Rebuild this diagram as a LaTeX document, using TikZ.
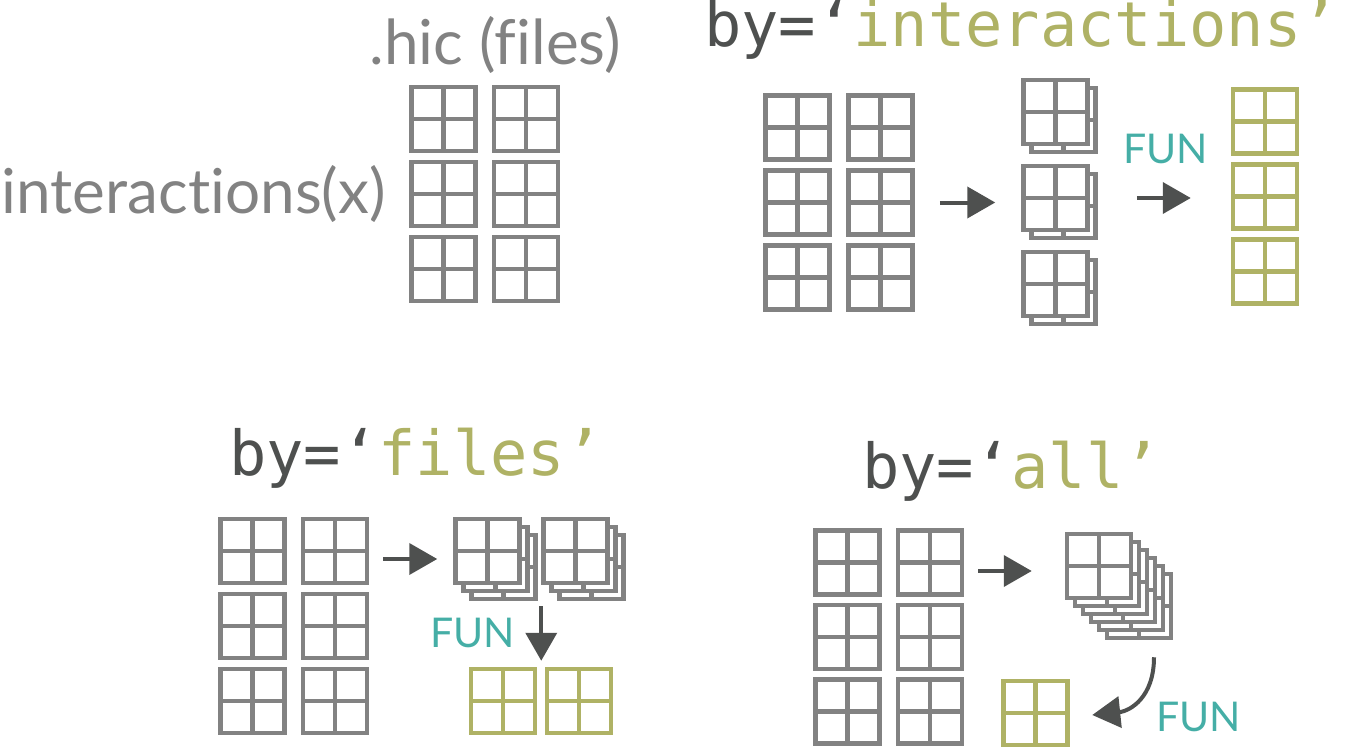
\documentclass[tikz,border=0pt]{standalone}
\usepackage{fontspec}
\setmainfont{Lato}[Ligatures=NoCommon]
\setmonofont{DejaVu Sans Mono}
\usetikzlibrary{arrows.meta}
\definecolor{gridgray}{HTML}{828282}
\definecolor{arrgray}{HTML}{4E504F}
\definecolor{bygreen}{HTML}{AFB265}
\definecolor{funteal}{HTML}{45AEA6}

\begin{document}
\begin{tikzpicture}[x=1pt,y=-1pt,
    cell/.style={draw=#1,fill=white,line width=4.5pt,minimum size=64pt,inner sep=0pt,
      path picture={\draw[#1,line width=4.5pt]
        (path picture bounding box.north) -- (path picture bounding box.south)
        (path picture bounding box.west) -- (path picture bounding box.east);}},
    cell/.default=gridgray,
    title/.style={font=\ttfamily\fontsize{62}{70}\selectfont,text=arrgray,anchor=base west,inner sep=0pt},
    txt/.style={font=\fontsize{62}{70}\selectfont,text=gridgray,anchor=base east,inner sep=0pt},
    fun/.style={font=\fontsize{41}{50}\selectfont,text=funteal,anchor=base west,inner sep=0pt},
    arr/.style={-{Triangle[length=28pt,width=31pt]},line width=4pt,draw=arrgray}]
  \useasboundingbox (0,0) rectangle (1346,749);

  % interactions(x)
  \foreach \r/\y in {1/119,2/194,3/269}
    \foreach \c/\x in {1/443.5,2/526}
      \node[cell] (hic\c\r) at (\x,\y) {};
  \node[txt] (hicl) at (621,65) {.hic (files)};
  \node[txt] (intl) at (386,213) {interactions(x)};

  % by='interactions'
  \node[title] (byint) at (704,47) {by=‘{\color{bygreen}interactions’}};
  \foreach \r/\y in {1/127.5,2/202.5,3/277.5}
    \foreach \c/\x in {1/797.5,2/880.5}
      \node[cell] (int\c\r) at (\x,\y) {};
  \foreach \r/\y in {1/112,2/198,3/284}{
    \node[cell] (ints\r b) at (1063.5,\y+8) {};
    \node[cell] (ints\r) at (1055.5,\y) {};
  }
  \foreach \r/\y in {1/121.5,2/196.5,3/271.5}
    \node[cell=bygreen] (intg\r) at (1265,\y) {};
  \node[fun] (intf) at (1123,163) {FUN};
  \draw[arr,shorten <=25pt,shorten >=26pt] (int22.east) -- (int22.east -| ints2.west);
  \draw[arr,shorten <=47pt,shorten >=40pt] (ints2.east) -- (ints2.east -| intg2.west);

  % by='files'
  \node[title] (byfil) at (229,475) {by=‘{\color{bygreen}files’}};
  \foreach \r/\y in {1/551,2/626,3/701}
    \foreach \c/\x in {1/252.5,2/335}
      \node[cell] (fil\c\r) at (\x,\y) {};
  \foreach \c/\x in {1/487.5,2/575.5}{
    \foreach \k in {2,1}
      \node[cell] (fils\c b\k) at (\x+8*\k,551+8*\k) {};
    \node[cell] (fils\c) at (\x,551) {};
  }
  \node[cell=bygreen] (filg1) at (503,701) {};
  \node[cell=bygreen] (filg2) at (579,701) {};
  \node[fun] (filf) at (430,647) {FUN};
  \coordinate (fila) at ([yshift=-8pt]fil21.east);
  \draw[arr,shorten <=14pt,shorten >=16pt] (fila) -- (fila -| fils1.west);
  \draw[arr,shorten <=5pt,shorten >=6pt] (fils1b2.south -| fils2.west) -- (filg1.north -| fils2.west);

  % by='all'
  \node[title] (byall) at (862,488) {by=‘{\color{bygreen}all’}};
  \foreach \r/\y in {1/562.5,2/637,3/711.5}
    \foreach \c/\x in {1/847.5,2/930}
      \node[cell] (all\c\r) at (\x,\y) {};
  \foreach \k in {5,4,...,1}
    \node[cell] (allsb\k) at (1099+8*\k,566+8*\k) {};
  \node[cell] (alls) at (1099,566) {};
  \node[cell=bygreen] (allg) at (1035.5,713) {};
  \node[fun] (allf) at (1156,731) {FUN};
  \coordinate (alla) at ([yshift=-8.5pt]all21.east);
  \draw[arr,shorten <=14pt,shorten >=33pt] (alla) -- (alla -| alls.west);
  \draw[arr] ([xshift=15pt,yshift=-17pt]allsb5.south) .. controls +(0,40) and +(38,-4) .. ([xshift=22.5pt,yshift=-2pt]allg.east);
\end{tikzpicture}
\end{document}
